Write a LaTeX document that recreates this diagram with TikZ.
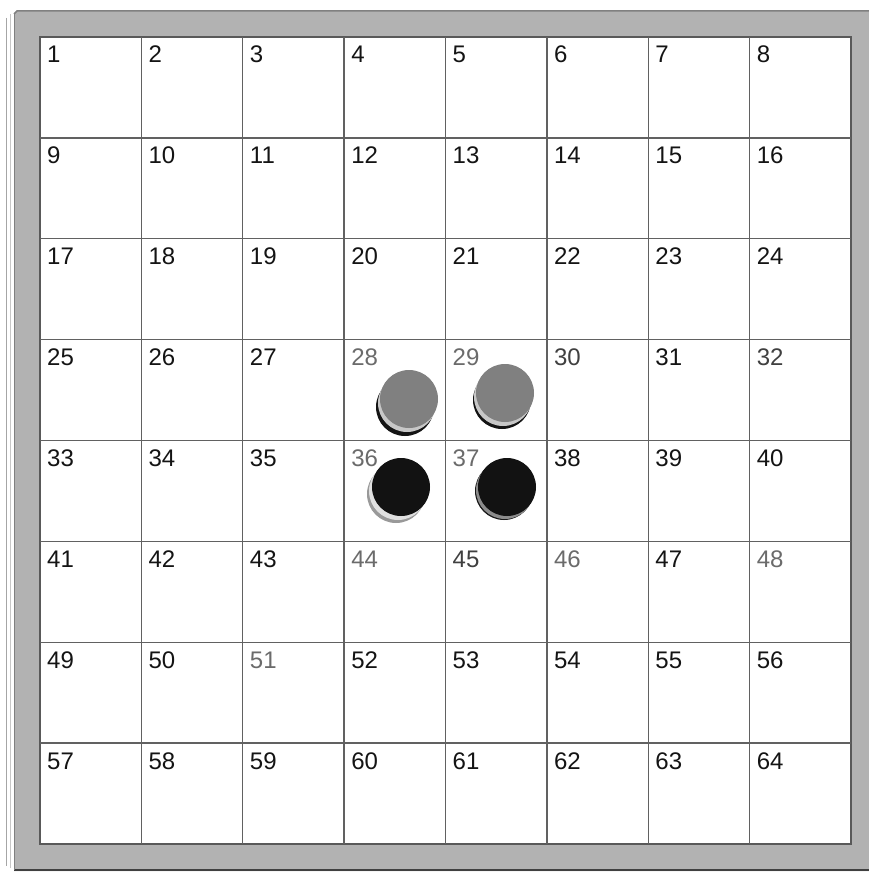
\documentclass[tikz,border=0pt]{standalone}
\usepackage{fontspec}
\setmainfont{Liberation Sans}
\begin{document}
\begin{tikzpicture}[x=1pt,y=-1pt,
  num/.style={anchor=base west,inner sep=0pt,font=\fontsize{24}{24}\selectfont,text=black!92},
  faded/.style={text=black!58},
  halffaded/.style={text=black!75},
  f28/.style={faded}, f29/.style={faded}, f36/.style={faded}, f37/.style={faded},
  f44/.style={faded}, f46/.style={faded}, f48/.style={faded}, f51/.style={faded},
  f32/.style={halffaded}, f45/.style={halffaded}, f30/.style={halffaded},
  gridline/.style={black!62,line width=1.3pt}]
\useasboundingbox (0,0) rectangle (869,872);
\fill[white] (0,0) rectangle (869,872);
% side strip of the board
\draw[black!35,line width=1pt] (6,18) -- (6,866);
\draw[black!22,line width=0.6pt] (10,14) -- (10,868);
% frame
\fill[black!30] (17,11) -- (869,11) -- (869,871) -- (14,871) -- (14,14) -- cycle;
\draw[black!50,line width=1.5pt] (14,14) -- (17,11) -- (869,11);
\draw[black!75,line width=2pt] (14,870) -- (869,870);
\draw[black!50,line width=1pt] (14,14) -- (14,870);
\fill[white] (40,37) rectangle (851,844);
\draw[black!65,line width=1.6pt] (40,37) rectangle (851,844);
% grid
\foreach \i in {1,...,7} {
  \draw[gridline] ({40+\i*811/8},37) -- ({40+\i*811/8},844);
  \draw[gridline] (40,{37+\i*807/8}) -- (851,{37+\i*807/8});
}
% numbers
\foreach \r in {0,...,7} \foreach \c in {0,...,7} {
  \pgfmathtruncatemacro\n{\r*8+\c+1}
  \node[num,f\n/.try] (n\n) at ({40+\c*811/8+7},{37+\r*807/8+26}) {\n};
}
% pieces: grey on 28 and 29
\fill[black!92] (405,407) circle (29);
\fill[black!22] (407,403) circle (29);
\fill[black!50] (409,399) circle (29);
\fill[black!92] (502,400) circle (29);
\fill[black!22] (503,397) circle (29);
\fill[black!50] (505,393) circle (29);
% pieces: black on 36 and 37
\fill[black!40] (396,494) circle (29);
\fill[black!12] (398,491) circle (29);
\fill[black!93] (401,487) circle (29);
\fill[black!90] (504,491) circle (29);
\fill[black!45] (505,490) circle (29);
\fill[black!93] (507,487) circle (29);
\end{tikzpicture}
\end{document}
